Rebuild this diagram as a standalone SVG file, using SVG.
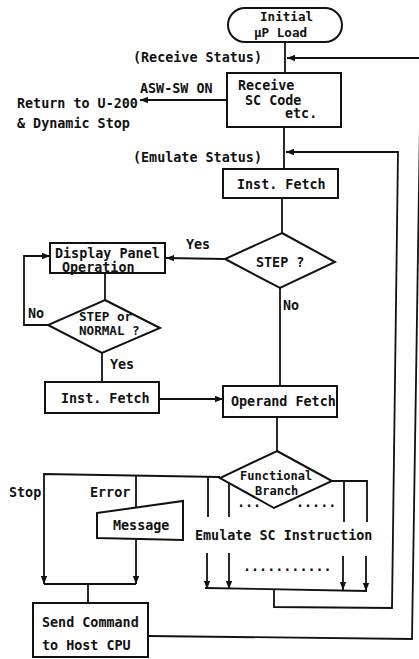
<svg xmlns="http://www.w3.org/2000/svg" width="419" height="659" viewBox="0 0 419 659">
  <style>
    text { font-family: "DejaVu Sans Mono", "Liberation Mono", monospace; font-size: 13.4px; font-weight: bold; fill: #111; }
    .tight { font-size: 12.6px; }
    .small { font-size: 12px; }
    .box { fill: #fff; stroke: #111; stroke-width: 2; }
    .ln { fill: none; stroke: #111; stroke-width: 1.8; }
  </style>
  <defs>
    <marker id="arr" markerUnits="userSpaceOnUse" markerWidth="10" markerHeight="8" refX="8" refY="4" orient="auto">
      <path d="M0,0.8 L8,4 L0,7.2 Z" fill="#111"/>
    </marker>
  </defs>

  <!-- connectors -->
  <g id="connectors">
    <path class="ln" d="M285,42 L285,73"/>
    <path class="ln" d="M421,58 L287,58" marker-end="url(#arr)"/>
    <path class="ln" d="M227,100 L140,100" marker-end="url(#arr)"/>
    <path class="ln" d="M284,127 L284,169"/>
    <path class="ln" d="M282,198 L282,233"/>
    <path class="ln" d="M225,259 L166,258" marker-end="url(#arr)"/>
    <path class="ln" d="M280,288 L280,386"/>
    <path class="ln" d="M105,273 L105,300"/>
    <path class="ln" d="M48,325 L24,325 L24,256 L50,256" marker-end="url(#arr)"/>
    <path class="ln" d="M102,353 L102,382"/>
    <path class="ln" d="M159,399 L223,399" marker-end="url(#arr)"/>
    <path class="ln" d="M277,417 L277,451"/>
    <!-- branch fan from Functional Branch -->
    <path class="ln" d="M220,477 L44,474 L44,584" marker-end="url(#arr)"/>
    <path class="ln" d="M136,475 L136,508"/>
    <path class="ln" d="M136,540 L136,584" marker-end="url(#arr)"/>
    <path class="ln" d="M44,584 L136,584"/>
    <path class="ln" d="M88,584 L88,603"/>
    <path class="ln" d="M208,476 L208,517"/>
    <path class="ln" d="M229,483 L229,517"/>
    <path class="ln" d="M332,481 L367,481 L367,522"/>
    <path class="ln" d="M344,481 L344,522"/>
    <path class="ln" d="M207,553 L207,589" marker-end="url(#arr)"/>
    <path class="ln" d="M229,553 L229,589" marker-end="url(#arr)"/>
    <path class="ln" d="M343,556 L343,590" marker-end="url(#arr)"/>
    <path class="ln" d="M366,556 L366,591" marker-end="url(#arr)"/>
    <path class="ln" d="M205,588 L367,591"/>
    <path class="ln" d="M274,589 L274,607 L392,608 L398,152 L286,152" marker-end="url(#arr)"/>
    <path class="ln" d="M148,636 L412,639 L421,58"/>
  </g>

  <!-- nodes -->
  <g id="initial-load">
    <rect class="box" x="228" y="8" width="114" height="34" rx="17"/>
    <text class="tight" x="260" y="21">Initial</text>
    <text class="tight" x="254" y="37">μP Load</text>
  </g>

  <g id="receive-label">
    <text x="133" y="62">(Receive Status)</text>
  </g>

  <g id="receive">
    <rect class="box" x="227" y="73" width="114" height="54"/>
    <text x="238" y="90">Receive</text>
    <text x="245" y="105">SC Code</text>
    <text x="285" y="118">etc.</text>
  </g>

  <g id="return-exit">
    <text x="140" y="93">ASW-SW ON</text>
    <text x="17" y="108">Return to U-200</text>
    <text x="17" y="128">&amp; Dynamic Stop</text>
  </g>

  <g id="emulate-label">
    <text x="133" y="162">(Emulate Status)</text>
  </g>

  <g id="inst-fetch-1">
    <rect class="box" x="223" y="169" width="115" height="29"/>
    <text x="237" y="189">Inst. Fetch</text>
  </g>

  <g id="step-decision">
    <path class="box" d="M282,233 L335,262 L280,288 L225,259 Z"/>
    <text x="256" y="267">STEP ?</text>
    <text x="186" y="249">Yes</text>
    <text x="283" y="310">No</text>
  </g>

  <g id="display-panel">
    <rect class="box" x="50" y="243" width="115" height="30"/>
    <text x="55" y="258">Display Panel</text>
    <text x="62" y="272">Operation</text>
  </g>

  <g id="step-normal-decision">
    <path class="box" d="M105,300 L160,328 L102,353 L48,325 Z"/>
    <text class="tight" x="79" y="321">STEP or</text>
    <text class="tight" x="79" y="335">NORMAL ?</text>
    <text x="28" y="318">No</text>
    <text x="110" y="369">Yes</text>
  </g>

  <g id="inst-fetch-2">
    <rect class="box" x="45" y="382" width="114" height="31"/>
    <text x="61" y="403">Inst. Fetch</text>
  </g>

  <g id="operand-fetch">
    <rect class="box" x="223" y="386" width="114" height="31"/>
    <text x="231" y="406">Operand Fetch</text>
  </g>

  <g id="functional-branch">
    <path class="box" d="M277,451 L332,481 L274,508 L220,478 Z"/>
    <text class="small" x="240" y="480">Functional</text>
    <text class="small" x="255" y="495">Branch</text>
    <text x="237" y="507">...</text>
    <text x="296" y="507">.....</text>
  </g>

  <g id="branch-labels">
    <text x="9" y="497">Stop</text>
    <text x="90" y="497">Error</text>
  </g>

  <g id="message">
    <path class="box" d="M97,513 L183,501 L183,540 L97,538 Z"/>
    <text x="113" y="530">Message</text>
  </g>

  <g id="emulate-sc">
    <text x="195" y="540">Emulate SC Instruction</text>
    <text x="243" y="571">...........</text>
  </g>

  <g id="send-command">
    <rect class="box" x="33" y="603" width="115" height="54"/>
    <text x="42" y="627">Send Command</text>
    <text x="42" y="650">to Host CPU</text>
  </g>
</svg>
